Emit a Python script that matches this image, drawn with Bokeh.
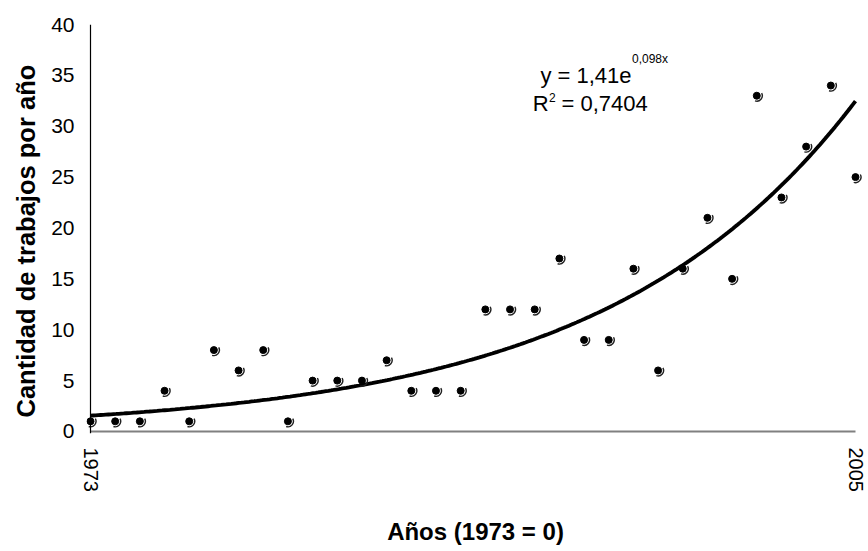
import numpy as np
from bokeh.plotting import figure
from bokeh.models import Range1d, FixedTicker, Span, Label, Title
from bokeh.embed import file_html
from bokeh.resources import INLINE

# ---- data (x = years since 1972, first = 1973, last = 2005) ----
years_idx = [1, 2, 3, 4, 5, 6, 7, 8, 9, 10, 11, 12, 13, 14, 15, 16,
             17, 18, 19, 20, 21, 22, 23, 24, 25, 26, 27, 28, 29, 30, 31, 32]
trabajos = [1, 1, 1, 4, 1, 8, 6, 8, 1, 5, 5, 5, 7, 4, 4, 4,
            12, 12, 12, 17, 9, 9, 16, 6, 16, 21, 15, 33, 23, 28, 34, 25]
y_ticks = [0, 5, 10, 15, 20, 25, 30, 35, 40]
x_tick_labels = {1: "1973", 32: "2005"}
y_title = "Cantidad de trabajos por año"
x_title = "Años (1973 = 0)"
eq_main = "y = 1,41e"
eq_sup = "0,098x"
r2_main = "R"
r2_sup = "2"
r2_rest = "= 0,7404"

X = np.array(years_idx, dtype=float)
Y = np.array(trabajos, dtype=float)

# exponential trend fitted from the data (as Excel does)
b, ln_a = np.polyfit(X, np.log(Y), 1)
xt = np.linspace(X[0], X[-1], 300)
yt = np.exp(ln_a) * np.exp(b * xt)

FONT = "Liberation Sans"

p = figure(width=868, height=551, output_backend="svg", toolbar_location=None,
           x_range=Range1d(0.8379, 32.3647), y_range=Range1d(-0.197, 40),
           min_border_left=86, min_border_right=4, min_border_top=24,
           min_border_bottom=118)
p.outline_line_color = None
p.xgrid.visible = False
p.ygrid.visible = False
p.background_fill_color = "white"
p.border_fill_color = "white"

# y axis
p.yaxis.ticker = FixedTicker(ticks=y_ticks)
p.yaxis.axis_line_color = None
p.yaxis.major_tick_line_color = None
p.yaxis.minor_tick_line_color = None
p.yaxis.major_tick_out = 0
p.yaxis.minor_tick_out = 0
p.yaxis.major_tick_in = 0
p.yaxis.major_label_standoff = 12
p.yaxis.major_label_text_font = FONT
p.yaxis.major_label_text_font_size = "21px"
p.yaxis.major_label_text_color = "black"

# y title as a side title, anchored at the lower end
p.add_layout(Title(text=y_title, align="left", vertical_align="top", offset=16,
                   standoff=14, text_font=FONT, text_font_size="25.5px",
                   text_font_style="bold", text_color="black"), "left")

# x axis
p.xaxis.ticker = FixedTicker(ticks=list(x_tick_labels.keys()))
p.xaxis.major_label_overrides = x_tick_labels
p.xaxis.major_label_orientation = "vertical"
p.xaxis.axis_line_color = None
p.xaxis.major_tick_line_color = None
p.xaxis.minor_tick_line_color = None
p.xaxis.major_tick_out = 0
p.xaxis.minor_tick_out = 0
p.xaxis.major_tick_in = 0
p.xaxis.major_label_standoff = 14
p.xaxis.major_label_text_font = FONT
p.xaxis.major_label_text_font_size = "20px"
p.xaxis.major_label_text_color = "black"
p.xaxis.axis_label = x_title
p.xaxis.axis_label_text_font = FONT
p.xaxis.axis_label_text_font_size = "24px"
p.xaxis.axis_label_text_font_style = "bold"
p.xaxis.axis_label_text_color = "black"
p.xaxis.axis_label_standoff = 23

# axis lines drawn at the first data position
p.add_layout(Span(location=X[0], dimension="height", line_color="black", line_width=1.2))
p.line(x=[X[0], X[-1]], y=[0, 0], line_color="#808080", line_width=2)

# trendline
p.line(xt, yt, line_color="black", line_width=3.8)

# markers: black dot with a shadow arc
p.arc(x=X, y=Y, radius=5.5, radius_units="screen", start_angle=-1.9, end_angle=0.5,
      line_color="#222222", line_width=1.4)
p.scatter(x=X, y=Y, size=7, marker="circle", fill_color="black", line_color="black")

# equation labels (main text right-aligned at the superscript anchor)
ax1, ay1 = 22.923, 34.988
ax2, ay2 = 19.560, 32.236
fs_main = "22px"
fs_sup = "12px"
p.add_layout(Label(x=ax1, y=ay1, text=eq_main, text_font=FONT, text_font_size=fs_main,
                   text_baseline="alphabetic", text_align="right", text_color="black"))
p.add_layout(Label(x=ax1, y=ay1, x_offset=0.5, y_offset=16, text=eq_sup, text_font=FONT,
                   text_font_size=fs_sup, text_baseline="alphabetic", text_align="left",
                   text_color="black"))
p.add_layout(Label(x=ax2, y=ay2, text=r2_main, text_font=FONT, text_font_size=fs_main,
                   text_baseline="alphabetic", text_align="right", text_color="black"))
p.add_layout(Label(x=ax2, y=ay2, x_offset=0.5, y_offset=6, text=r2_sup, text_font=FONT,
                   text_font_size=fs_sup, text_baseline="alphabetic", text_align="left",
                   text_color="black"))
p.add_layout(Label(x=ax2, y=ay2, x_offset=13, text=r2_rest, text_font=FONT,
                   text_font_size=fs_main, text_baseline="alphabetic", text_align="left",
                   text_color="black"))

open("out.html", "w").write(file_html(p, INLINE))
